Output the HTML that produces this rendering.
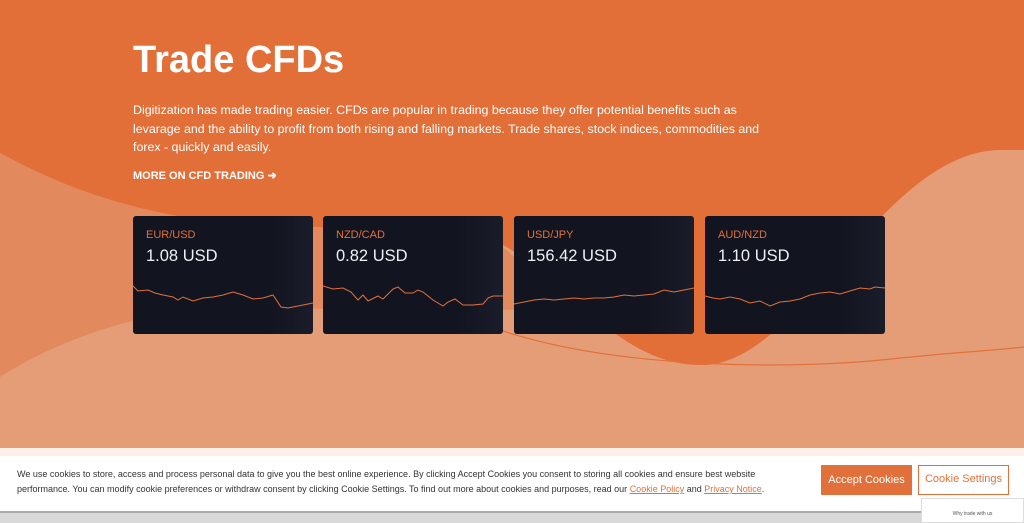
<!DOCTYPE html>
<html><head><meta charset="utf-8"><style>
*{margin:0;padding:0;box-sizing:border-box}
body{width:1024px;height:523px;overflow:hidden;position:relative;background:#E26E38;font-family:"Liberation Sans",sans-serif;color:#fff}
svg.bg{position:absolute;left:0;top:0}
h1{position:absolute;left:133px;top:39px;font-size:38px;font-weight:bold}
p.lead{position:absolute;left:133px;top:101px;width:630px;font-size:12.4px;line-height:18.5px}
.more{position:absolute;left:133px;top:169px;font-size:11px;font-weight:bold}
.card{position:absolute;top:216px;width:180px;height:118px;background:linear-gradient(90deg,#12151F 75%,#1a1c2a);border-radius:3px;overflow:hidden}
.card .l{position:absolute;left:13px;top:13px;font-size:11px;color:#E2703A}
.card .p{position:absolute;left:13px;top:31px;font-size:16.5px;color:#EEF0F5}
.card svg{position:absolute;left:0;top:60px}
.strip{position:absolute;left:0;top:448px;width:1024px;height:10px;background:#FBEFE8}
.cookie{position:absolute;left:0;top:456px;width:1024px;height:55px;background:#fff}
.cookie .t{position:absolute;left:17px;top:11px;width:790px;font-size:9px;line-height:15px;color:#333}
.cookie a{color:#E2703A;text-decoration:underline}
.b1{position:absolute;left:821px;top:9px;width:91px;height:30px;background:#E2703A;color:#fff;font-size:11px;text-align:center;line-height:30px}
.b2{position:absolute;left:918px;top:9px;width:91px;height:30px;border:1.5px solid #E2703A;color:#E2703A;font-size:11px;text-align:center;line-height:27px}
.bar{position:absolute;left:0;top:511px;width:1024px;height:12px;background:#d9d9d9;border-top:2px solid #aaa}
.mini{position:absolute;left:921px;top:498px;width:103px;height:25px;background:#fff;border:1px solid #ddd;font-size:5px;color:#555;text-align:center;padding-top:12px}
</style></head><body>
<svg class="bg" width="1024" height="523">
<path d="M0,153 C60,185 110,205 200,220 C320,232 420,225 480,235 C560,262 610,365 700,365 C800,368 880,152 1000,150 L1024,150 L1024,523 L0,523 Z" fill="#E49D77"/>
<path d="M0,153 C60,185 110,205 200,220 C320,232 420,225 480,235 C520,250 540,290 560,310 L200,308 C120,318 50,345 0,377 Z" fill="#E28A5E"/>
<path d="M500,330 C620,370 800,370 900,358 C960,352 1000,350 1024,347" fill="none" stroke="#E2703A" stroke-width="1.2"/>
</svg>
<h1>Trade CFDs</h1>
<p class="lead">Digitization has made trading easier. CFDs are popular in trading because they offer potential benefits such as levarage and the ability to profit from both rising and falling markets. Trade shares, stock indices, commodities and forex - quickly and easily.</p>
<div class="more">MORE ON CFD TRADING ➜</div>

<div class="card" style="left:133px"><div class="l">EUR/USD</div><div class="p">1.08 USD</div>
<svg width="180" height="58"><polyline fill="none" stroke="#E2703A" stroke-width="1" points="0,10 5,15 15,14 22,17 30,19 40,21 45,24 50,21 60,25 70,22 80,21 90,19 100,16 110,19 120,23 130,22 140,19 148,31 155,32 165,30 175,28 180,27"/></svg></div>
<div class="card" style="left:323px"><div class="l">NZD/CAD</div><div class="p">0.82 USD</div>
<svg width="180" height="58"><polyline fill="none" stroke="#E2703A" stroke-width="1" points="0,10 10,13 20,12 28,16 35,24 40,19 45,25 55,20 60,23 65,18 70,13 75,11 82,17 90,17 95,14 100,16 110,24 120,30 125,26 132,23 140,29 150,29 160,28 165,22 170,20 180,20"/></svg></div>
<div class="card" style="left:514px"><div class="l">USD/JPY</div><div class="p">156.42 USD</div>
<svg width="180" height="58"><polyline fill="none" stroke="#E2703A" stroke-width="1" points="0,28 10,26 20,24 30,23 40,24 50,23 60,22 70,23 80,22 90,22 100,21 110,19 120,20 130,19 140,18 150,14 160,16 170,14 180,12"/></svg></div>
<div class="card" style="left:705px"><div class="l">AUD/NZD</div><div class="p">1.10 USD</div>
<svg width="180" height="58"><polyline fill="none" stroke="#E2703A" stroke-width="1" points="0,20 8,22 15,23 25,21 35,23 45,27 55,25 65,30 75,26 85,25 95,23 105,19 115,17 125,16 135,18 145,15 155,12 165,13 170,11 180,12"/></svg></div>

<div class="strip"></div>
<div class="cookie">
<div class="t">We use cookies to store, access and process personal data to give you the best online experience. By clicking Accept Cookies you consent to storing all cookies and ensure best website performance. You can modify cookie preferences or withdraw consent by clicking Cookie Settings. To find out more about cookies and purposes, read our <a>Cookie Policy</a> and <a>Privacy Notice</a>.</div>
<div class="b1">Accept Cookies</div><div class="b2">Cookie Settings</div>
</div>
<div class="bar"></div>
<div class="mini">Why trade with us</div>
</body></html>
